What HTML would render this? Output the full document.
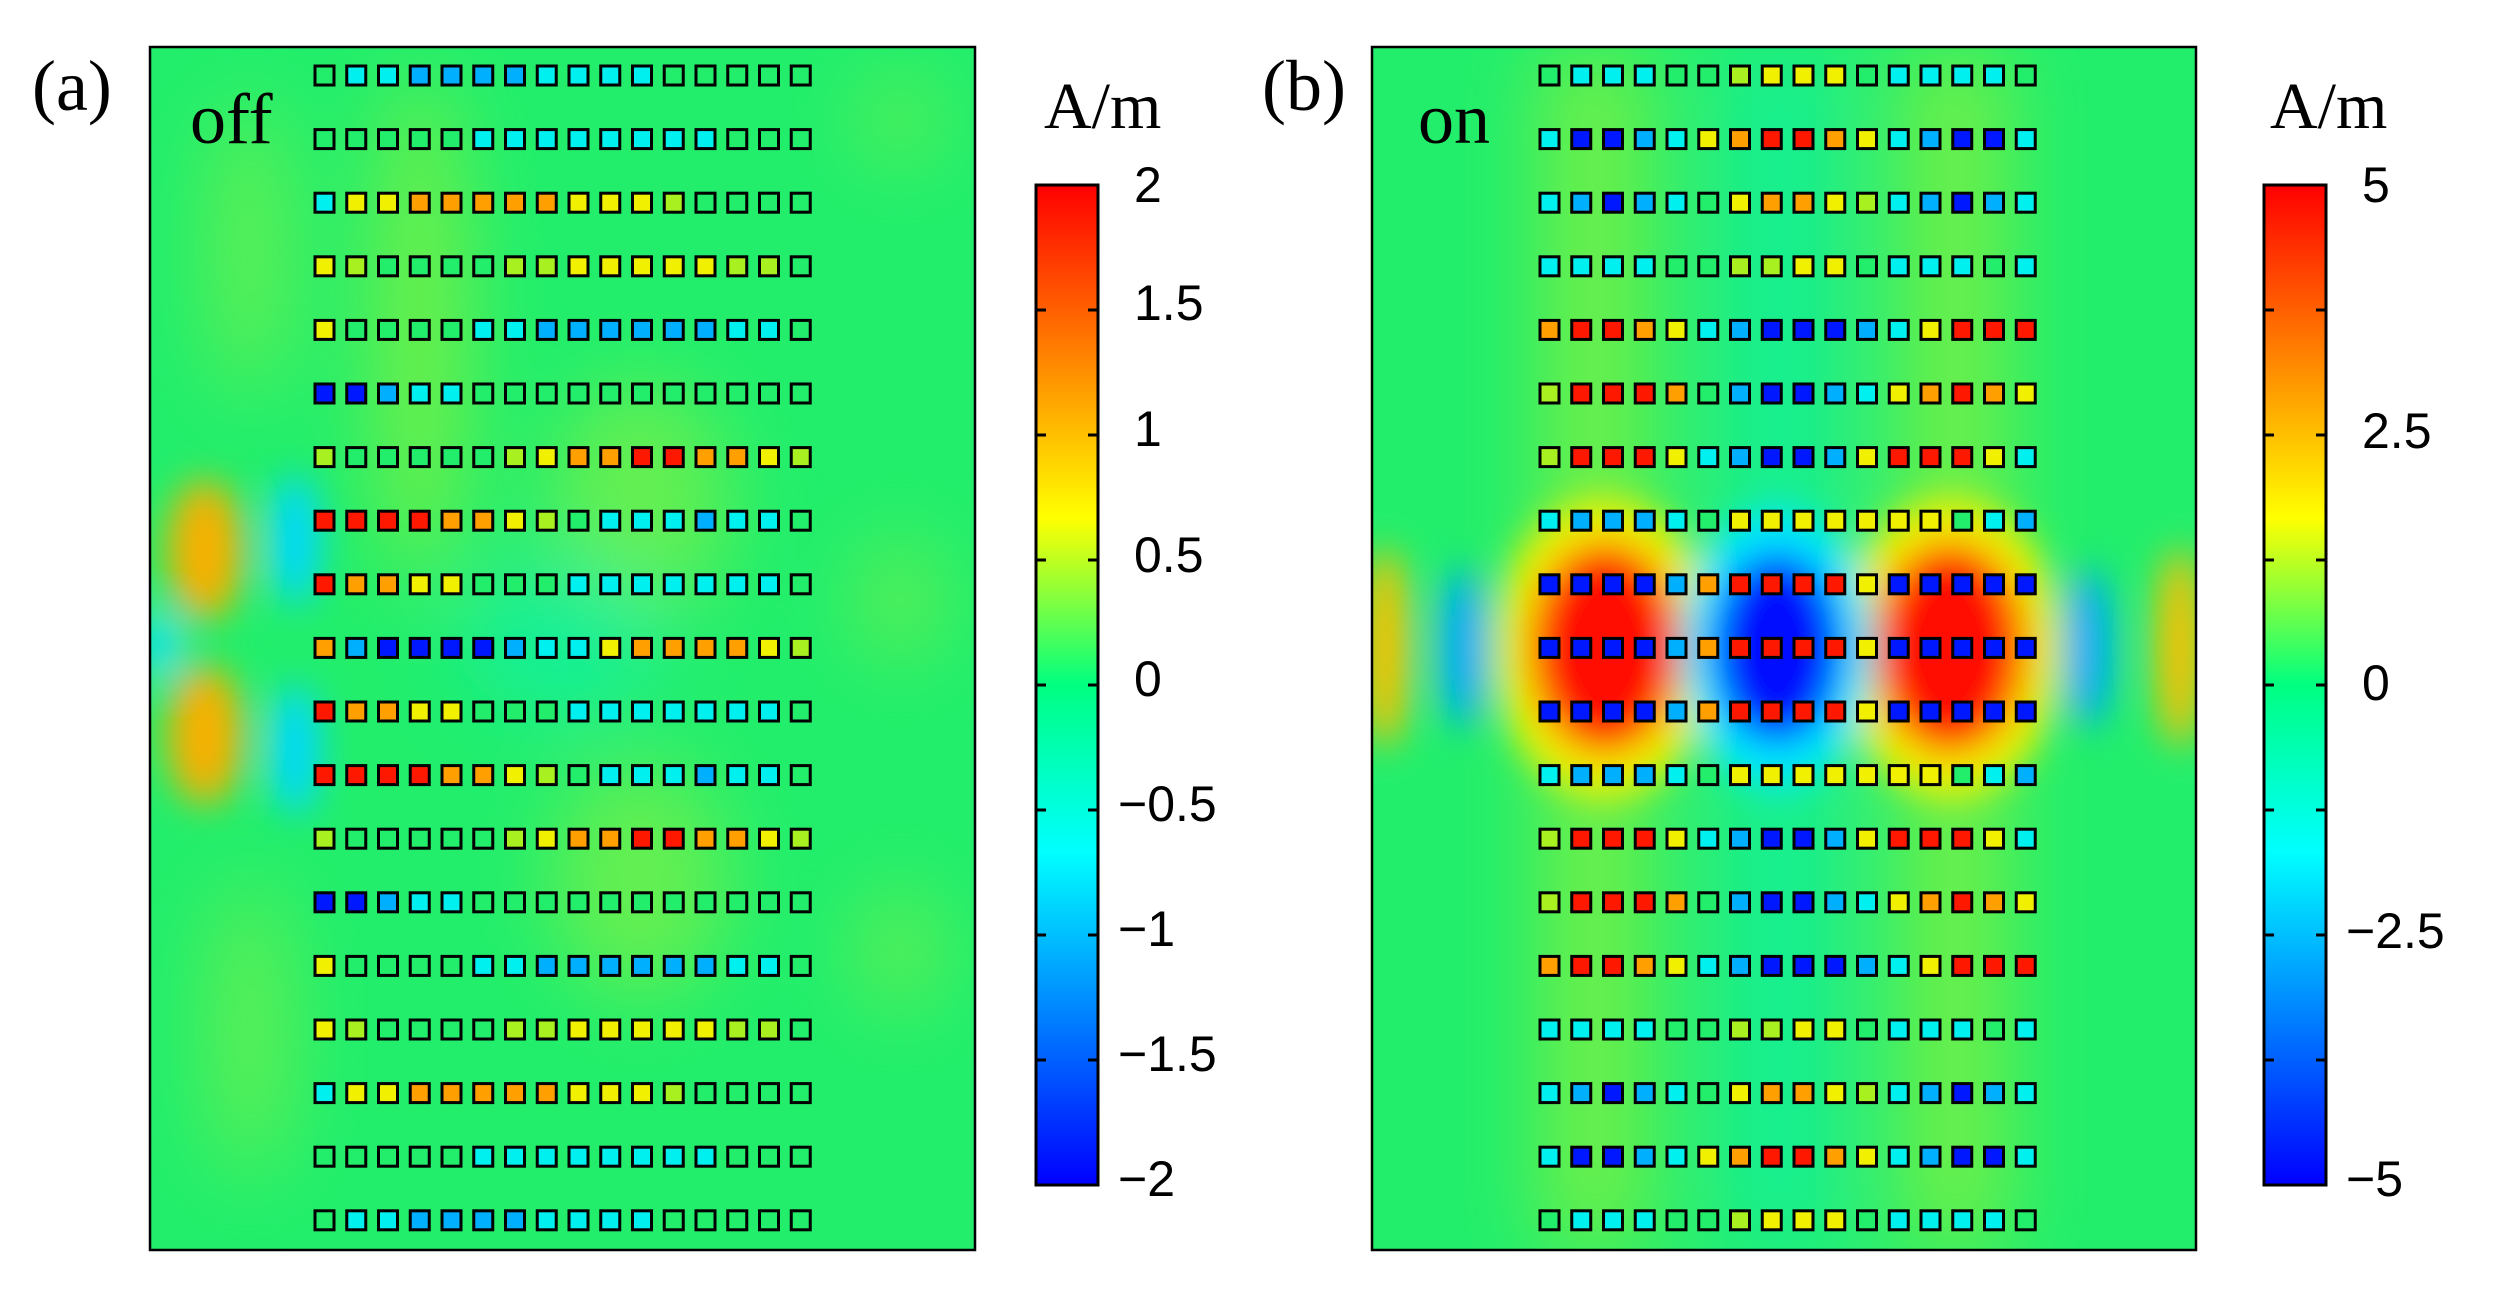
<!DOCTYPE html>
<html><head><meta charset="utf-8"><style>
body{margin:0;background:#fff;}
svg{display:block}
</style></head><body>
<svg id="s" width="2499" height="1299" xmlns="http://www.w3.org/2000/svg">
<defs>
<filter id="bl" x="-50%" y="-50%" width="200%" height="200%"><feGaussianBlur stdDeviation="18"/></filter>
<filter id="bl2" x="-50%" y="-50%" width="200%" height="200%"><feGaussianBlur stdDeviation="40"/></filter>
<clipPath id="ca"><rect x="150" y="47" width="825" height="1203"/></clipPath>
<clipPath id="cb"><rect x="1372" y="47" width="824" height="1203"/></clipPath>
<linearGradient id="jet" x1="0" y1="0" x2="0" y2="1">
<stop offset="0" stop-color="#ff0000"/><stop offset="0.333" stop-color="#ffff00"/>
<stop offset="0.5" stop-color="#00ff80"/><stop offset="0.667" stop-color="#00ffff"/>
<stop offset="1" stop-color="#0000ff"/></linearGradient>
</defs>
<g clip-path="url(#ca)">
<rect x="150" y="47" width="825" height="1203" fill="#22ee6c"/>
<g filter="url(#bl2)" opacity="0.6">
<ellipse cx="420" cy="330" rx="50" ry="260" fill="#a0f030"/>
<ellipse cx="640" cy="500" rx="90" ry="120" fill="#90f040"/>
<ellipse cx="640" cy="880" rx="90" ry="120" fill="#90f040"/>
<ellipse cx="560" cy="640" rx="100" ry="80" fill="#10f0b0"/>
<ellipse cx="250" cy="250" rx="40" ry="150" fill="#90f040"/>
<ellipse cx="250" cy="1030" rx="40" ry="150" fill="#90f040"/>
<ellipse cx="900" cy="120" rx="40" ry="40" fill="#90f040"/>
<ellipse cx="900" cy="600" rx="40" ry="60" fill="#90f040"/>
<ellipse cx="900" cy="950" rx="40" ry="60" fill="#90f040"/>
</g>
<g filter="url(#bl)">
<ellipse cx="205" cy="550" rx="38" ry="70" fill="#f8b000"/>
<ellipse cx="205" cy="735" rx="38" ry="70" fill="#f8b000"/>
<ellipse cx="160" cy="645" rx="18" ry="35" fill="#00e0ff"/>
<ellipse cx="295" cy="540" rx="25" ry="65" fill="#00d8ff"/>
<ellipse cx="295" cy="750" rx="25" ry="65" fill="#00d8ff"/>
</g>
</g>
<g clip-path="url(#cb)">
<rect x="1372" y="47" width="824" height="1203" fill="#22ee6c"/>
<g filter="url(#bl2)" opacity="0.6">
<rect x="1540" y="50" width="110" height="1200" fill="#a0f030"/>
<rect x="1900" y="50" width="110" height="1200" fill="#a0f030"/>
<rect x="1730" y="50" width="100" height="1200" fill="#10f0b0"/>
</g>
<g filter="url(#bl)">
<ellipse cx="1605" cy="648" rx="110" ry="150" fill="#f0f000"/>
<ellipse cx="1950" cy="648" rx="110" ry="150" fill="#f0f000"/>
<ellipse cx="1777" cy="648" rx="95" ry="140" fill="#00e8ff"/>
<ellipse cx="1605" cy="648" rx="75" ry="105" fill="#ff1000"/>
<ellipse cx="1950" cy="648" rx="75" ry="105" fill="#ff1000"/>
<ellipse cx="1777" cy="648" rx="65" ry="95" fill="#0010ff"/>
<ellipse cx="1463" cy="648" rx="24" ry="80" fill="#00a8ff"/>
<ellipse cx="2088" cy="648" rx="24" ry="80" fill="#00a8ff"/>
<ellipse cx="1385" cy="648" rx="24" ry="100" fill="#ffc000"/>
<ellipse cx="2180" cy="648" rx="24" ry="100" fill="#ffc000"/>
</g>
</g>
<g id="sq"></g>
<rect x="150" y="47" width="825" height="1203" fill="none" stroke="#000" stroke-width="2.5"/>
<rect x="1372" y="47" width="824" height="1203" fill="none" stroke="#000" stroke-width="2.5"/>
<rect x="1036" y="185" width="62" height="1000" fill="url(#jet)" stroke="#000" stroke-width="3"/>
<rect x="2264" y="185" width="62" height="1000" fill="url(#jet)" stroke="#000" stroke-width="3"/>
<g id="tk" stroke="#000" stroke-width="3"></g>
<g font-family="Liberation Serif, serif" font-size="72" fill="#000">
<text x="32" y="110">(a)</text><text x="1262" y="110">(b)</text>
<text x="190" y="143">off</text><text x="1418" y="143">on</text>
<text x="1044" y="128" font-size="66">A/m</text>
<text x="2270" y="128" font-size="66">A/m</text>
</g>
<g font-family="Liberation Sans, sans-serif" font-size="50" fill="#000">
<text x="1134" y="202">2</text><text x="1134" y="320">1.5</text><text x="1134" y="446">1</text>
<text x="1134" y="572">0.5</text><text x="1134" y="696">0</text><text x="1118" y="821">−0.5</text>
<text x="1118" y="946">−1</text><text x="1118" y="1071">−1.5</text><text x="1118" y="1196">−2</text>
<text x="2362" y="202">5</text><text x="2362" y="448">2.5</text><text x="2362" y="700">0</text>
<text x="2346" y="948">−2.5</text><text x="2346" y="1196">−5</text>
</g>
</svg>
<script>
var C={g:"#22ee6c",c:"#00f0f0",l:"#00b0ff",b:"#0018ff",y:"#f0f000",Y:"#a8f020",o:"#ffa000",r:"#ff1800"};
var A=["gccllllccccggggg","gggggccccccccggg","cyyoooooyyyYgggg","yYggggYYyyyyyYYg","yggggccllllllccg","bblccggggggggggg","YgggggYyoorrooyY","rrrrooyYgccclccg","rooyygggcccccccg","olbbbblccyooooyY"];
var B=["gcccggYyyygccccg","cbblcyorroyclbbc","clblcgyooyYclblc","ccccggYYyygcccgc","orroyclbbblcyrrr","Yrrroglbblcyoroy","Yrrryclbblyrrryc","clllcgyyyyyyygcl","bbbblorrrrybbbbb","bbbblorrrrybbbbb"];
function full(a){var r=a.slice();for(var i=8;i>=0;i--)r.push(a[i]);return r;}
var RA=full(A),RB=full(B);
var s="";
function draw(R,x0){for(var i=0;i<19;i++){var y=66+i*63.6;for(var j=0;j<16;j++){var x=x0+j*31.75;var ch=R[i][j]||"g";
s+='<rect x="'+x+'" y="'+y+'" width="19" height="19" fill="'+C[ch]+'" stroke="#000" stroke-width="3"/>';}}}
draw(RA,315);draw(RB,1540);
document.getElementById("sq").innerHTML=s;
var t="";
for(var k=1;k<8;k++){var y=185+k*125;t+='<line x1="1036" y1="'+y+'" x2="1046" y2="'+y+'"/><line x1="1088" y1="'+y+'" x2="1098" y2="'+y+'"/>';
t+='<line x1="2264" y1="'+y+'" x2="2274" y2="'+y+'"/><line x1="2316" y1="'+y+'" x2="2326" y2="'+y+'"/>';}
document.getElementById("tk").innerHTML=t;
</script>
</body></html>
